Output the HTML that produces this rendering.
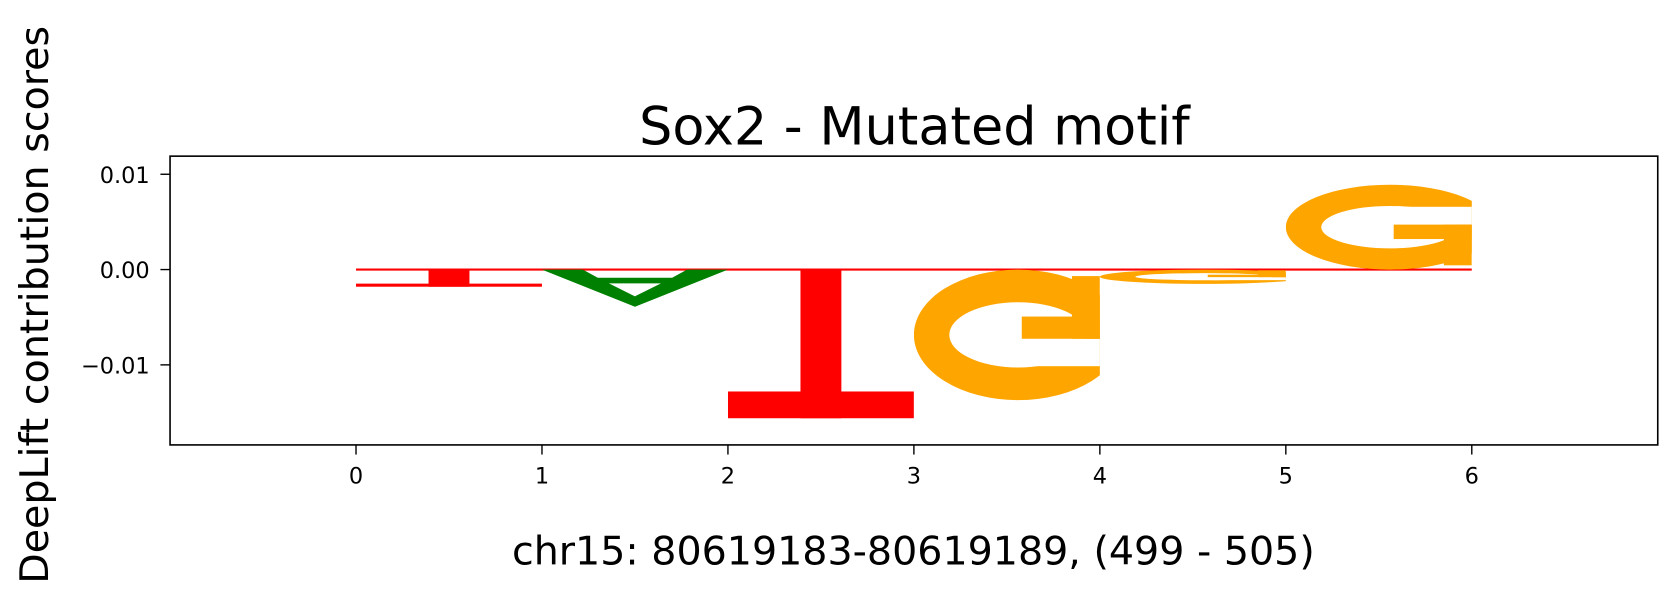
<!DOCTYPE html>
<html><head><meta charset="utf-8"><style>
body{margin:0;background:#fff;}
svg text{font-family:"DejaVu Sans","Liberation Sans",sans-serif;fill:#000;}
</style></head><body>
<svg id="chart" width="1677" height="603" viewBox="0 0 1568 563.8" preserveAspectRatio="none" xmlns="http://www.w3.org/2000/svg">
<defs id="defs"></defs>
<text x="855" y="135" font-size="49" text-anchor="middle">Sox2 - Mutated motif</text>
<text x="0" y="0" font-size="37" text-anchor="middle" transform="translate(45,285) rotate(-90)">DeepLift contribution scores</text>
<text x="854" y="528" font-size="37" text-anchor="middle">chr15: 80619183-80619189, (499 - 505)</text>
<g id="marks"></g>
<g id="axes"></g>
<rect x="159" y="146" width="1391" height="270" fill="none" stroke="#000" stroke-width="1.5"/>
</svg>
<script>
const positions = [0, 1, 2, 3, 4, 5];
const letters = ['T', 'A', 'T', 'G', 'G', 'G'];
const scores = [-0.0018, -0.0039, -0.0156, -0.0137, -0.0015, 0.0089];
const xTicks = [0, 1, 2, 3, 4, 5, 6];
const yTicks = [0.01, 0, -0.01];
const yTickLabels = ['0.01', '0.00', '\u22120.01'];

const X0 = 159, X1 = 1550, Y0 = 146, Y1 = 416;
const xMin = -1, xMax = 7, yMin = -0.0184, yMax = 0.0119;
const xs = v => X0 + (v - xMin) / (xMax - xMin) * (X1 - X0);
const ys = v => Y1 - (v - yMin) / (yMax - yMin) * (Y1 - Y0);
const NS = 'http://www.w3.org/2000/svg';
const marks = document.getElementById('marks');
const axes = document.getElementById('axes');
const defs = document.getElementById('defs');
const colors = {A: 'green', C: 'blue', G: 'orange', T: 'red'};

function mk(tag, attrs, parent) {
  const e = document.createElementNS(NS, tag);
  for (const k in attrs) e.setAttribute(k, attrs[k]);
  parent.appendChild(e);
  return e;
}

const base = mk('line', {x1: xs(0), x2: xs(6), y1: ys(0), y2: ys(0), stroke: 'red', 'stroke-width': 2}, marks);



positions.forEach((p, i) => {
  const L = letters[i], s = scores[i], col = colors[L];
  const left = xs(p), w = xs(p + 1) - xs(p);
  const y0 = ys(0), y1 = ys(s);
  const neg = s < 0;
  const top = Math.min(y0, y1), h = Math.abs(y1 - y0);
  const X = u => left + u * w;
  const Y = v => neg ? top + v * h : top + (1 - v) * h;
  const cp = mk('clipPath', {id: 'clip' + i}, defs);
  mk('rect', {x: left, y: top - 1, width: w, height: h + 2}, cp);
  const g = mk('g', {fill: col, 'clip-path': 'url(#clip' + i + ')'}, marks);
  
  
  const rect = (u0, u1, v0, v1, fill) => {
    const ya = Y(v0), yb = Y(v1);
    mk('rect', {x: X(u0), y: Math.min(ya, yb), width: X(u1) - X(u0), height: Math.abs(yb - ya), fill: fill || col}, g);
  };
  if (L === 'T') {
    rect(0, 1, 0.82, 1);
    rect(0.39, 0.61, 0, 1);
  } else if (L === 'A') {
    const pts = [[0, 0], [0.22, 0], [0.3, 0.22], [0.7, 0.22], [0.78, 0], [1, 0], [0.5, 1]];
    mk('polygon', {points: pts.map(q => X(q[0]) + ',' + Y(q[1])).join(' ')}, g);
    const hole = [[0.36, 0.37], [0.64, 0.37], [0.5, 0.72]];
    mk('polygon', {points: hole.map(q => X(q[0]) + ',' + Y(q[1])).join(' '), fill: '#fff'}, g);
  } else if (L === 'G') {
    const cx = X(0.56), cy = (Y(0) + Y(1)) / 2, rx = w * 0.56, ry = h / 2;
    const rxi = rx * 0.66, ryi = ry * 0.5;
    const d = `M${cx - rx},${cy} a${rx},${ry} 0 1,0 ${2 * rx},0 a${rx},${ry} 0 1,0 ${-2 * rx},0 Z ` +
              `M${cx - rxi},${cy} a${rxi},${ryi} 0 1,0 ${2 * rxi},0 a${rxi},${ryi} 0 1,0 ${-2 * rxi},0 Z`;
    mk('path', {d: d, 'fill-rule': 'evenodd'}, g);
    rect(0.6, 1.01, 0.53, 0.74, '#fff');
    rect(0.58, 1, 0.36, 0.53);
    rect(0.85, 1, 0.05, 0.53);
  }
});

xTicks.forEach(t => {
  const x = xs(t);
  const tk = mk('line', {x1: x, x2: x, y1: Y1, y2: Y1 + 9, stroke: '#000', 'stroke-width': 1.3}, axes);
  
  
  const tx = mk('text', {x: x, y: Y1 + 36, 'font-size': 21, 'text-anchor': 'middle'}, axes);
  tx.textContent = t;
  
  
});
yTicks.forEach((t, i) => {
  const y = ys(t);
  const tk = mk('line', {x1: X0 - 9, x2: X0, y1: y, y2: y, stroke: '#000', 'stroke-width': 1.3}, axes);
  
  
  const tx = mk('text', {x: X0 - 19, y: y + 8, 'font-size': 21, 'text-anchor': 'end'}, axes);
  tx.textContent = yTickLabels[i];
  
  
});
</script>
</body></html>
